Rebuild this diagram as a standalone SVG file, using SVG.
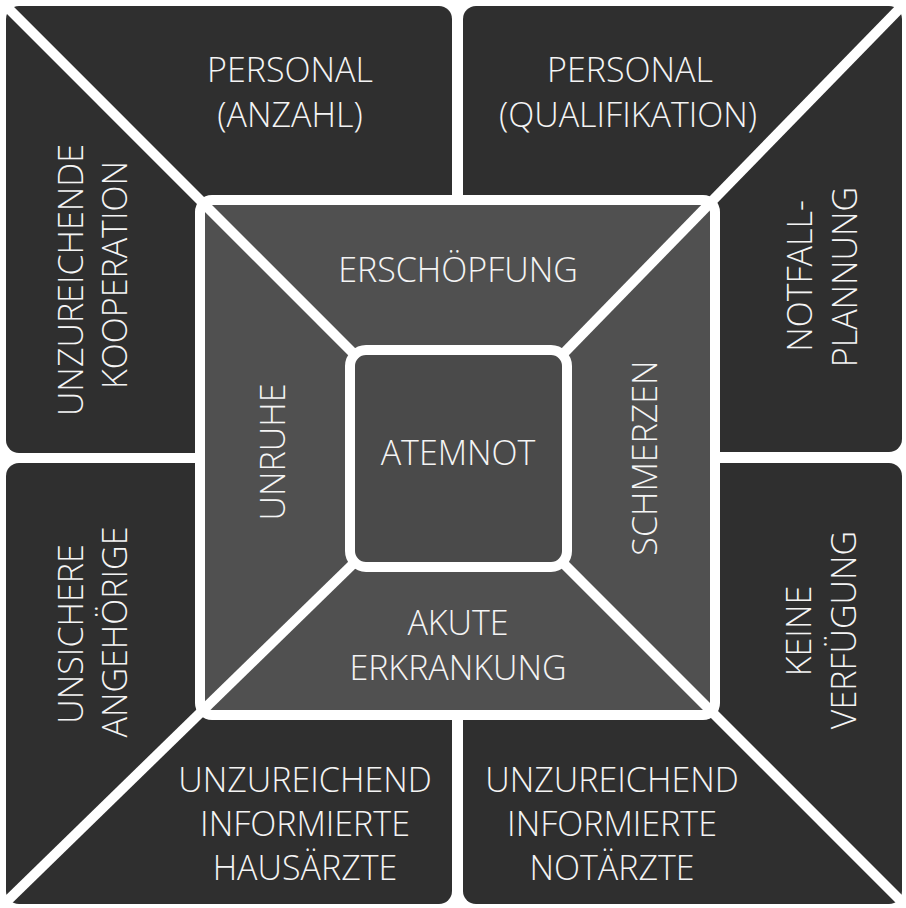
<svg xmlns="http://www.w3.org/2000/svg" width="906" height="908" viewBox="0 0 906 908">
  <defs>
    <style>
      .outer { fill: #2f2f2f; }
      .ring { fill: #505050; }
      .core { fill: #4a4a4a; stroke: #ffffff; stroke-width: 10; }
      .frame { fill: none; stroke: #ffffff; stroke-width: 10; }
      .divider { fill: none; stroke: #ffffff; stroke-width: 10; stroke-linecap: butt; }
      text { font-family: "Open Sans", "Liberation Sans", sans-serif; font-size: 34px; font-weight: 300; fill: #f4f4f4; text-anchor: middle; }
    </style>
    <!-- half-planes that split each outer quadrant along its diagonal -->
    <clipPath id="clipTLtop"><polygon points="0,0 460,0 460,460"/></clipPath>
    <clipPath id="clipTLleft"><polygon points="0,0 460,460 0,460"/></clipPath>
    <clipPath id="clipTRtop"><polygon points="455,0 908,0 462,458 455,458"/></clipPath>
    <clipPath id="clipTRright"><polygon points="908,0 910,0 910,458 462,458"/></clipPath>
    <clipPath id="clipBLleft"><polygon points="0,455 462,455 462,458 0,908"/></clipPath>
    <clipPath id="clipBLbottom"><polygon points="462,458 462,910 0,910 0,908"/></clipPath>
    <clipPath id="clipBRright"><polygon points="455,455 910,455 910,910"/></clipPath>
    <clipPath id="clipBRbottom"><polygon points="455,455 910,910 455,910"/></clipPath>
  </defs>

  <rect width="906" height="908" fill="#ffffff"/>

  <!-- outer ring of factors -->
  <g id="personal-anzahl">
    <rect class="outer" x="6" y="6" width="446" height="447" rx="13" clip-path="url(#clipTLtop)"/>
    <text x="290" y="82">PERSONAL</text>
    <text x="290" y="127">(ANZAHL)</text>
  </g>
  <g id="unzureichende-kooperation">
    <rect class="outer" x="6" y="6" width="446" height="447" rx="13" clip-path="url(#clipTLleft)"/>
    <text transform="translate(83,280) rotate(-90)">UNZUREICHENDE</text>
    <text transform="translate(127,275) rotate(-90)">KOOPERATION</text>
  </g>
  <g id="personal-qualifikation">
    <rect class="outer" x="463" y="6" width="439" height="446" rx="13" clip-path="url(#clipTRtop)"/>
    <text x="630" y="82">PERSONAL</text>
    <text x="628" y="127">(QUALIFIKATION)</text>
  </g>
  <g id="notfallplannung">
    <rect class="outer" x="463" y="6" width="439" height="446" rx="13" clip-path="url(#clipTRright)"/>
    <text transform="translate(812,276) rotate(-90)">NOTFALL-</text>
    <text transform="translate(857,277) rotate(-90)">PLANNUNG</text>
  </g>
  <g id="unsichere-angehoerige">
    <rect class="outer" x="6" y="463" width="446" height="441" rx="13" clip-path="url(#clipBLleft)"/>
    <text transform="translate(83,634) rotate(-90)">UNSICHERE</text>
    <text transform="translate(127,632) rotate(-90)">ANGEHÖRIGE</text>
  </g>
  <g id="hausaerzte">
    <rect class="outer" x="6" y="463" width="446" height="441" rx="13" clip-path="url(#clipBLbottom)"/>
    <text x="305" y="792">UNZUREICHEND</text>
    <text x="305" y="836">INFORMIERTE</text>
    <text x="305" y="880">HAUSÄRZTE</text>
  </g>
  <g id="keine-verfuegung">
    <rect class="outer" x="463" y="463" width="439" height="441" rx="13" clip-path="url(#clipBRright)"/>
    <text transform="translate(811,631) rotate(-90)">KEINE</text>
    <text transform="translate(856,630) rotate(-90)">VERFÜGUNG</text>
  </g>
  <g id="notaerzte">
    <rect class="outer" x="463" y="463" width="439" height="441" rx="13" clip-path="url(#clipBRbottom)"/>
    <text x="612" y="792">UNZUREICHEND</text>
    <text x="612" y="836">INFORMIERTE</text>
    <text x="612" y="880">NOTÄRZTE</text>
  </g>

  <!-- inner ring of symptoms -->
  <g id="erschoepfung">
    <polygon class="ring" points="200,200 715,200 567,350 350,350"/>
    <text x="458" y="282">ERSCHÖPFUNG</text>
  </g>
  <g id="unruhe">
    <polygon class="ring" points="200,200 350,350 350,567 200,715"/>
    <text transform="translate(285,452) rotate(-90)">UNRUHE</text>
  </g>
  <g id="schmerzen">
    <polygon class="ring" points="715,200 715,715 567,567 567,350"/>
    <text transform="translate(657,458) rotate(-90)">SCHMERZEN</text>
  </g>
  <g id="akute-erkrankung">
    <polygon class="ring" points="350,567 567,567 715,715 200,715"/>
    <text x="458" y="635">AKUTE</text>
    <text x="458" y="680">ERKRANKUNG</text>
  </g>

  <!-- white diagonal dividers -->
  <g id="dividers">
    <line class="divider" x1="2" y1="2" x2="352" y2="352"/>
    <line class="divider" x1="906" y1="2" x2="564" y2="353"/>
    <line class="divider" x1="2" y1="906" x2="353" y2="564"/>
    <line class="divider" x1="565" y1="565" x2="908" y2="908"/>
  </g>

  <g id="inner-frame">
    <rect class="frame" x="200" y="200" width="515" height="515" rx="12"/>
  </g>

  <!-- central symptom -->
  <g id="atemnot">
    <rect class="core" x="350" y="350" width="217" height="217" rx="16"/>
    <text x="458" y="465">ATEMNOT</text>
  </g>
</svg>
